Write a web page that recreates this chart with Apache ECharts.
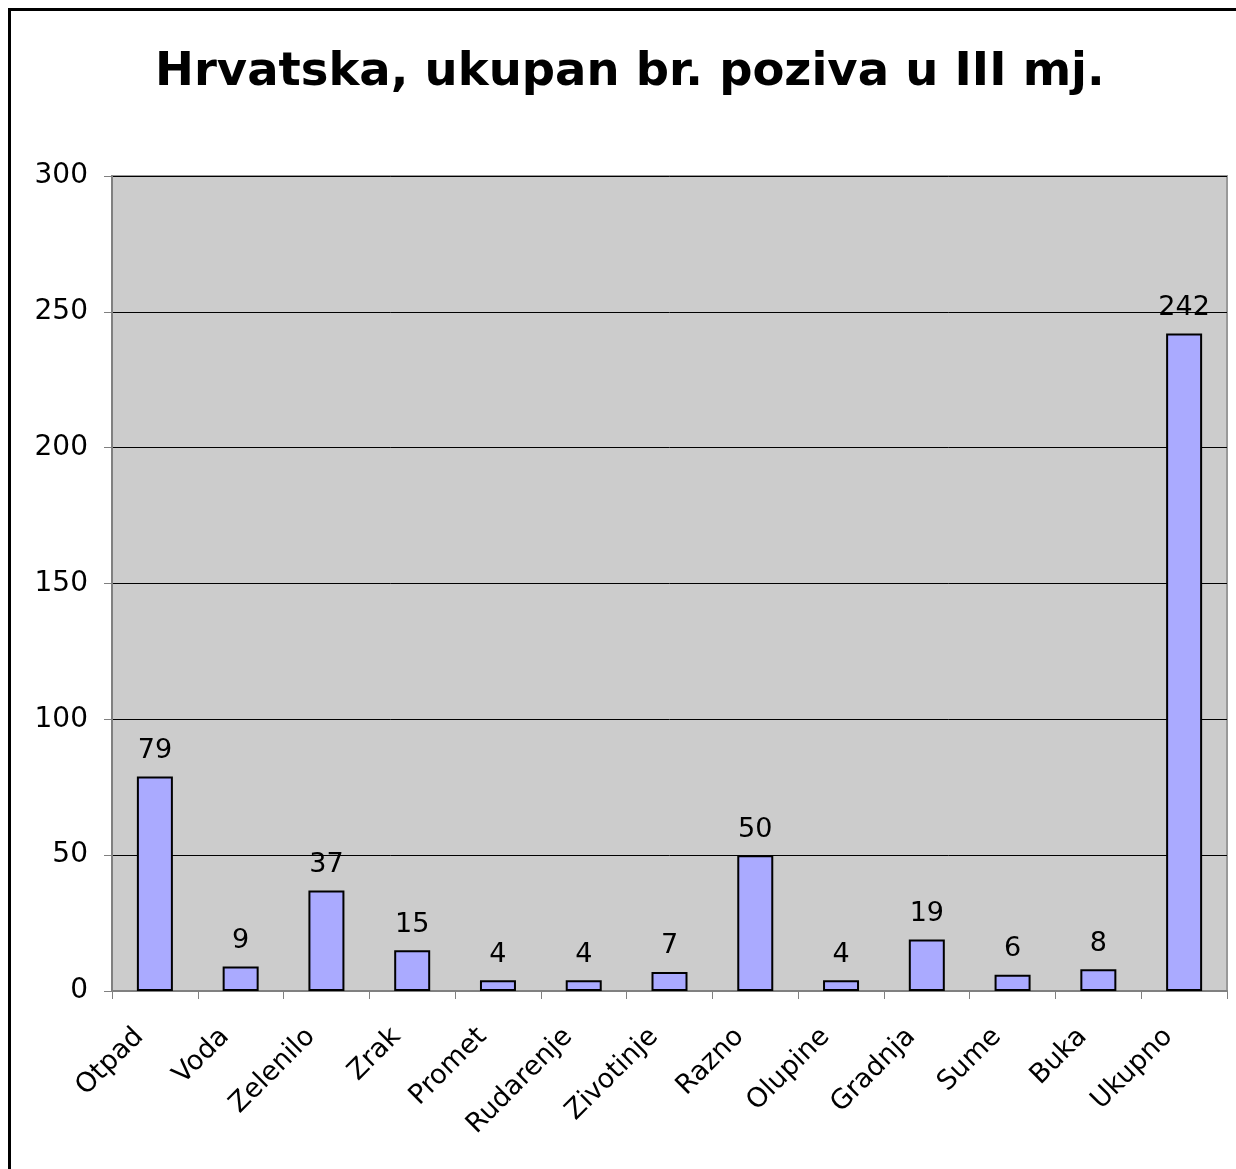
<!DOCTYPE html>
<html><head><meta charset="utf-8">
<script src="https://cdn.jsdelivr.net/npm/echarts@6/dist/echarts.min.js"></script>
<style>html,body{margin:0;padding:0;background:#fff}#c{width:1236px;height:1169px}</style>
</head><body><div id="c"></div>
<script>
const categories = ['Otpad','Voda','Zelenilo','Zrak','Promet','Rudarenje','Zivotinje','Razno','Olupine','Gradnja','Sume','Buka','Ukupno'];
const values = [79, 9, 37, 15, 4, 4, 7, 50, 4, 19, 6, 8, 242];
const titleText = 'Hrvatska, ukupan br. poziva u III mj.';

const chart = echarts.init(document.getElementById('c'), null, {renderer:'canvas'});
const FONT = 'Verdana, "DejaVu Sans", sans-serif';
chart.setOption({
  animation: false,
  backgroundColor: '#fff',
  textStyle: {fontFamily: FONT},
  title: {
    text: titleText, left: 150, top: 44,
    textStyle: {fontFamily: FONT, fontSize: 46.5, fontWeight: 'bold', color: '#000'}
  },
  graphic: [{
    type: 'rect', shape: {x: 9.5, y: 9.5, width: 1300, height: 1300},
    style: {fill: 'none', stroke: '#000', lineWidth: 3}, silent: true, z: 100
  }],
  grid: {
    left: 112, right: 9, top: 176, bottom: 178, containLabel: false,
    show: true, backgroundColor: '#cccccc', borderColor: '#999999', borderWidth: 2
  },
  xAxis: {
    type: 'category', data: categories,
    axisLine: {lineStyle: {color: '#808080', width: 2}},
    axisTick: {show: true, alignWithLabel: false, length: 8, lineStyle: {color: '#808080'}},
    axisLabel: {rotate: 45, fontSize: 27, color: '#000', margin: 26, padding: [0, 22, 0, 0], fontFamily: FONT, interval: 0}
  },
  yAxis: {
    type: 'value', min: 0, max: 300, interval: 50,
    axisLine: {show: true, lineStyle: {color: '#808080', width: 2}},
    axisTick: {show: true, length: 8, lineStyle: {color: '#808080'}},
    axisLabel: {fontSize: 28, color: '#000', margin: 24, fontFamily: FONT},
    splitLine: {show: true, lineStyle: {color: '#000', width: 1}}
  },
  series: [{
    type: 'bar', data: values, barWidth: 36,
    itemStyle: {color: '#aaaaff', borderColor: '#000', borderWidth: 2},
    label: {show: true, position: 'top', distance: 12, fontSize: 27, color: '#000', fontFamily: FONT}
  }]
});
</script></body></html>
